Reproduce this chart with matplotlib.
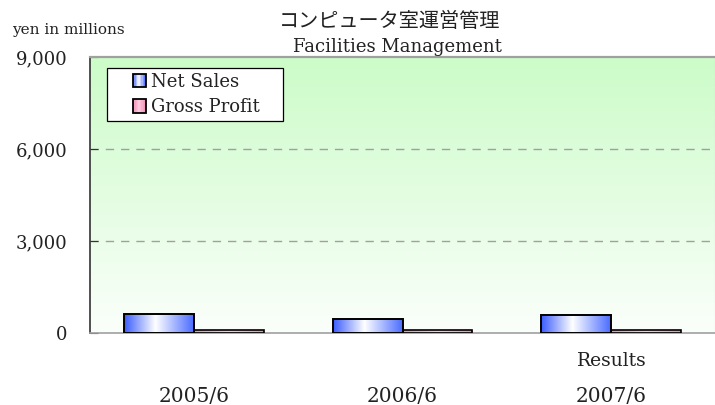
import numpy as np
import matplotlib
matplotlib.use("Agg")
import matplotlib.pyplot as plt
from matplotlib.patches import Rectangle
from matplotlib.legend_handler import HandlerBase
from matplotlib.colors import LinearSegmentedColormap

# data (yen in millions)
periods = ["2005/6", "2006/6", "2007/6"]
net_sales = [630, 470, 590]
gross_profit = [105, 95, 100]
series_names = ["Net Sales", "Gross Profit"]
yticks = [0, 3000, 6000, 9000]

SERIF = "DejaVu Serif"
JP = ["Noto Sans CJK JP", "DejaVu Sans"]

blue_cmap = LinearSegmentedColormap.from_list(
    "bw", [(0.0, "#3a5cff"), (0.45, "#ffffff"), (1.0, "#4a6cff")])
pink_cmap = LinearSegmentedColormap.from_list(
    "pw", [(0.0, "#f090b8"), (0.5, "#ffc8dc"), (1.0, "#f090b8")])


class GradientHandler(HandlerBase):
    def __init__(self, cmap):
        super().__init__()
        self.cmap = cmap

    def create_artists(self, legend, orig_handle, xdescent, ydescent,
                       width, height, fontsize, trans):
        side = min(width, height)
        x0 = -xdescent + (width - side)
        y0 = -ydescent + (height - side) / 2
        arts = []
        n = 9
        for k in range(n):
            arts.append(Rectangle((x0 + side * k / n, y0), side / n, side,
                                  facecolor=self.cmap((k + 0.5) / n),
                                  edgecolor="none", transform=trans))
        arts.append(Rectangle((x0, y0), side, side, facecolor="none",
                              edgecolor="black", lw=1.3, transform=trans))
        return arts


W, H = 715, 405
fig = plt.figure(figsize=(W / 100, H / 100), dpi=100)
ax = fig.add_axes([90 / W, (H - 333) / H, 625 / W, 276 / H])

# background gradient: light green at top to white at bottom
bg = np.linspace(0, 1, 256).reshape(-1, 1)
bg_cmap = LinearSegmentedColormap.from_list("bg", ["#fbfffb", "#ccfcc8"])
ax.imshow(bg, cmap=bg_cmap, origin="lower", aspect="auto",
          extent=[-0.5, 2.5, 0, 9000], zorder=0)

x = np.arange(len(periods))
w = 0.335
bars1 = ax.bar(x - w / 2, net_sales, w, facecolor="none",
               edgecolor="black", lw=1.4, zorder=3)
bars2 = ax.bar(x + w / 2, gross_profit, w, facecolor="none",
               edgecolor="black", lw=1.2, zorder=3)

grad = np.linspace(0, 1, 256).reshape(1, -1)
for bars, cmap in [(bars1, blue_cmap), (bars2, pink_cmap)]:
    for b in bars:
        bx, by = b.get_x(), b.get_y()
        im = ax.imshow(grad, cmap=cmap, aspect="auto",
                       extent=[bx, bx + b.get_width(), by, by + b.get_height()],
                       zorder=2)
        im.set_clip_path(b)

ax.set_xlim(-0.5, 2.5)
ax.set_ylim(0, 9000)

for yv in [3000, 6000]:
    ax.axhline(yv, color="#a0a0a0", lw=1, ls=(0, (6, 5)), zorder=1)

ax.spines["top"].set_color("#a0a0a0")
ax.spines["top"].set_linewidth(1.6)
ax.spines["right"].set_color("#c8c8c8")
ax.spines["bottom"].set_color("#a0a0a0")
ax.spines["bottom"].set_linewidth(1.2)
ax.spines["left"].set_color("#333333")
ax.spines["left"].set_linewidth(1.2)

ax.set_yticks(yticks)
ax.set_yticklabels([f"{v:,}" for v in yticks], fontfamily=SERIF, fontsize=13,
                   color="#222222")
ax.tick_params(axis="y", direction="in", length=6, pad=16, color="#333333")
ax.set_xticks([])

for i, p in enumerate(periods):
    ax.annotate(p, xy=(i, 0), xycoords=("data", "axes fraction"),
                xytext=(0, -63), textcoords="offset pixels",
                ha="center", va="center", fontfamily=SERIF, fontsize=14.5,
                color="#222222")
ax.annotate("Results", xy=(2, 0), xycoords=("data", "axes fraction"),
            xytext=(1, -28), textcoords="offset pixels",
            ha="center", va="center", fontfamily=SERIF, fontsize=13.5,
            color="#222222")

fig.text(390 / W, 1 - 21.5 / H, "コンピュータ室運営管理", family=JP,
         fontsize=14.5, ha="center", va="center", color="#222222")
fig.text(397 / W, 1 - 47 / H, "Facilities Management", family=SERIF,
         fontsize=13, ha="center", va="center", color="#222222")
fig.text(12 / W, 1 - 30 / H, "yen in millions", family=SERIF,
         fontsize=11, ha="left", va="center", color="#222222")

h1 = Rectangle((0, 0), 1, 1)
h2 = Rectangle((0, 0), 1, 1)
leg = ax.legend([h1, h2], series_names,
                handler_map={h1: GradientHandler(blue_cmap),
                             h2: GradientHandler(pink_cmap)},
                loc="upper left", bbox_to_anchor=((107 - 90) / 625, (333 - 71) / 276),
                borderaxespad=0, prop={"family": SERIF, "size": 13},
                frameon=False, handlelength=2.05, handleheight=0.75,
                handletextpad=0.3, labelspacing=0.42, borderpad=0.1)
leg.set_zorder(5)
for t in leg.get_texts():
    t.set_color("#222222")

# legend box drawn as a plain white rectangle behind the entries
box = Rectangle((107 / W, 1 - 121 / H), 176 / W, 53 / H, transform=fig.transFigure,
                facecolor="white", edgecolor="black", lw=0.9, zorder=4)
ax.add_artist(box)
box.set_clip_on(False)

fig.savefig("out.png", dpi=100)
